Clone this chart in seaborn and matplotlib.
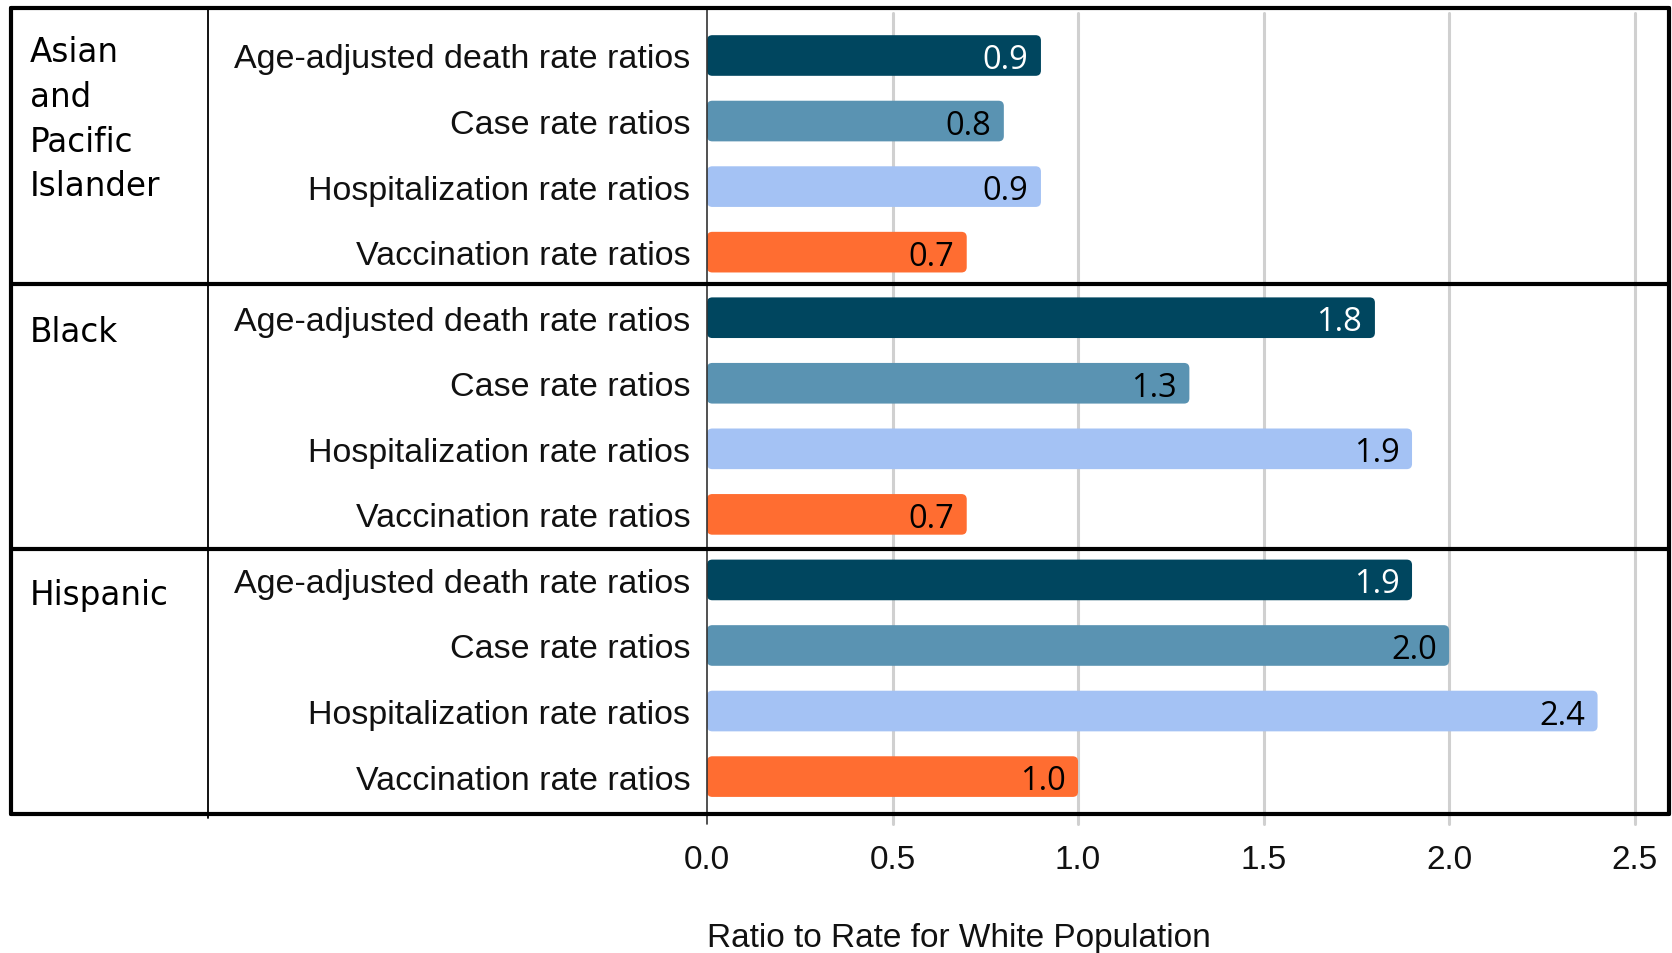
import matplotlib
matplotlib.use("Agg")
import matplotlib.pyplot as plt
from matplotlib.lines import Line2D
from matplotlib.patches import FancyBboxPatch
import pandas as pd
import seaborn as sns

# data
groups = ["Asian\nand\nPacific\nIslander", "Black", "Hispanic"]
measures = ["Age-adjusted death rate ratios", "Case rate ratios",
            "Hospitalization rate ratios", "Vaccination rate ratios"]
asian_vals = [0.9, 0.8, 0.9, 0.7]
black_vals = [1.8, 1.3, 1.9, 0.7]
hispanic_vals = [1.9, 2.0, 2.4, 1.0]
x_ticks = [0.0, 0.5, 1.0, 1.5, 2.0, 2.5]
x_title = "Ratio to Rate for White Population"

colors = {measures[0]: "#00465f", measures[1]: "#5a93b2",
          measures[2]: "#a4c2f4", measures[3]: "#ff6d31"}
label_colors = {measures[0]: "white", measures[1]: "black",
                measures[2]: "black", measures[3]: "black"}

# long table, one row per bar
rows = []
for g, vals in zip(groups, [asian_vals, black_vals, hispanic_vals]):
    for m, v in zip(measures, vals):
        rows.append({"group": g, "measure": m, "value": v,
                     "row": g + "|" + m})
df = pd.DataFrame(rows)

sns.set_style("white")
plt.rcParams["font.family"] = ["Liberation Sans", "DejaVu Sans"]

W, H = 1568, 895  # layout measured on this scale
fig = plt.figure(figsize=(16.72, 9.54), dpi=100)
ax = fig.add_axes([663 / W, 1 - 765 / H, (1565 - 663) / W, (765 - 8) / H])

sns.barplot(data=df, y="row", x="value", hue="measure", palette=colors,
            dodge=False, width=0.62, orient="h", legend=False, ax=ax,
            saturation=1, zorder=3)

# value labels inside the bar ends
for cont, m in zip(ax.containers, measures):
    labs = ax.bar_label(cont, fmt="%.1f", padding=-9, fontsize=23.5,
                        family="Open Sans", color=label_colors[m])
    for t in labs:
        t.set_ha("right")
        t.set_va("center_baseline")
        t.set_zorder(6)

ax.set_xlim(0, (1565 - 663) / 348)
ax.set_ylim((765 - 53) / 61.5, (8 - 53) / 61.5)

# slightly rounded bar ends
xr = 5 / 348
yr = 5 / 61.5
for p in list(ax.patches):
    x0, y0, w, h = p.get_x(), p.get_y(), p.get_width(), p.get_height()
    if w <= 0:
        continue
    fb = FancyBboxPatch((x0, y0), w, h,
                        boxstyle=f"round,pad=0,rounding_size={xr}",
                        mutation_aspect=yr / xr, facecolor=p.get_facecolor(),
                        edgecolor="none", zorder=3)
    p.set_visible(False)
    ax.add_patch(fb)

ax.set_xticks(x_ticks)
ax.set_xticklabels([f"{t:.1f}" for t in x_ticks])
ax.set_yticks(range(len(df)))
ax.set_yticklabels(df["measure"])
ax.tick_params(axis="y", length=0, pad=12, labelsize=24.5, labelcolor="#111111")
ax.tick_params(axis="x", length=0, pad=21, labelsize=24, labelcolor="#111111")
for t in ax.get_xticklabels() + ax.get_yticklabels():
    t.set_family("Liberation Sans")
ax.set_ylabel("")
ax.set_xlabel(x_title, fontsize=24, color="#111111", loc="left",
              family="Liberation Sans")
ax.xaxis.set_label_coords(0, -0.133)
for s in ax.spines.values():
    s.set_visible(False)
ax.grid(False)

# light vertical gridlines and the zero line
for t in x_ticks[1:]:
    ax.axvline(t, ymin=-0.012, ymax=0.993, color="#d0d0d0", lw=2.2,
               zorder=1, clip_on=False)
ax.axvline(0, ymin=-0.012, ymax=1, color="#333333", lw=1.2, zorder=4,
           clip_on=False)

# table frame around groups
x_left, x_inner, x_right = 10 / W, 195 / W, 1565 / W
for y in [8, 267, 516, 765]:
    fig.add_artist(Line2D([x_left, x_right], [1 - y / H, 1 - y / H],
                          color="black", lw=3, zorder=5))
fig.add_artist(Line2D([x_left, x_left], [1 - 8 / H, 1 - 765 / H],
                      color="black", lw=3, zorder=5))
fig.add_artist(Line2D([x_right, x_right], [1 - 8 / H, 1 - 765 / H],
                      color="black", lw=3, zorder=5))
fig.add_artist(Line2D([x_inner, x_inner], [1 - 8 / H, 1 - 768 / H],
                      color="black", lw=1.3, zorder=5))

# group names
for g, top in zip(groups, [34, 296, 543]):
    fig.text(28 / W, 1 - top / H, g, ha="left", va="top", fontsize=23.5,
             family="DejaVu Sans", linespacing=1.45, color="black")

fig.savefig("out.png", dpi=100)
